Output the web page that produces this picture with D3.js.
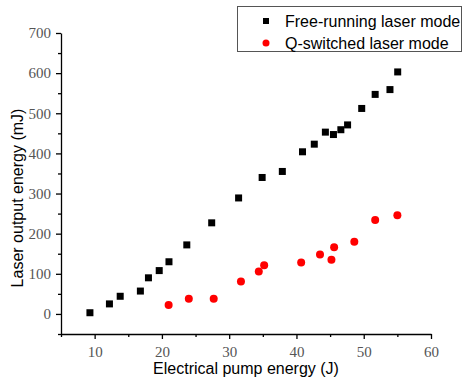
<!DOCTYPE html>
<html>
<head>
<meta charset="utf-8">
<script src="https://cdn.jsdelivr.net/npm/d3@7"></script>
<style>
body { margin: 0; background: #fff; }
.label { font-family: "Liberation Sans", Arial, sans-serif; font-size: 16px; fill: #000; }
</style>
</head>
<body>
<svg id="chart" width="462" height="391"></svg>
<script>
// free-running mode (square markers)
var freeX = [9.3, 12.2, 13.8, 16.8, 18.0, 19.6, 21.05, 23.7, 27.4, 31.4, 34.9, 37.9, 40.9, 42.65, 44.3, 45.5, 46.6, 47.6, 49.7, 51.7, 53.9, 55.05];
var freeY = [3, 25, 44, 57, 90, 108, 130, 172, 227, 289, 340, 355, 404, 423, 453, 447, 459, 471, 512, 547, 559, 603];
// Q-switched mode (red circles)
var qX = [21.0, 24.0, 27.7, 31.75, 34.4, 35.2, 40.7, 43.5, 45.2, 45.6, 48.6, 51.7, 55.0];
var qY = [22, 38, 38, 81, 106, 121, 128, 148, 135, 166, 180, 234, 246];

var xTicks = [10, 20, 30, 40, 50, 60];
var yTicks = [0, 100, 200, 300, 400, 500, 600, 700];
var legendNames = ['Free-running laser mode', 'Q-switched laser mode'];

var svg = d3.select('#chart');
var padding = {t: 33, r: 31, b: 57, l: 61};
var width = +svg.attr('width') - padding.l - padding.r;
var height = +svg.attr('height') - padding.t - padding.b;

var xScale = d3.scaleLinear().domain([5, 60]).range([0, width]);
var yScale = d3.scaleLinear().domain([-50, 700]).range([height, 0]);

var chart = svg.append('g')
    .attr('transform', 'translate(' + [padding.l, padding.t] + ')');

// minor ticks
chart.append('g')
    .attr('transform', 'translate(0,' + height + ')')
    .call(d3.axisBottom(xScale).tickValues(d3.range(5, 61, 10)).tickSize(3).tickFormat(''))
    .call(function(g) { g.select('.domain').remove(); });
chart.append('g')
    .call(d3.axisLeft(yScale).tickValues(d3.range(-50, 701, 100)).tickSize(3).tickFormat(''))
    .call(function(g) { g.select('.domain').remove(); });

var xAxis = chart.append('g')
    .attr('transform', 'translate(0,' + height + ')')
    .call(d3.axisBottom(xScale).tickValues(xTicks).tickSize(5).tickSizeOuter(0).tickPadding(7));
var yAxis = chart.append('g')
    .call(d3.axisLeft(yScale).tickValues(yTicks).tickSize(5).tickSizeOuter(0).tickPadding(5));

svg.selectAll('.domain, .tick line').attr('stroke', '#000').attr('stroke-width', 1.3);
svg.selectAll('.tick text')
    .attr('font-family', '"Liberation Serif", "Times New Roman", serif')
    .attr('font-size', 15)
    .attr('fill', '#555');

var freeData = freeX.map(function(d, i) { return {x: d, y: freeY[i]}; });
var qData = qX.map(function(d, i) { return {x: d, y: qY[i]}; });

chart.append('g').selectAll('rect')
    .data(freeData)
    .enter()
    .append('rect')
    .attr('x', function(d) { return xScale(d.x) - 3.5; })
    .attr('y', function(d) { return yScale(d.y) - 3.5; })
    .attr('width', 7)
    .attr('height', 7)
    .attr('fill', '#000');

chart.append('g').selectAll('circle')
    .data(qData)
    .enter()
    .append('circle')
    .attr('cx', function(d) { return xScale(d.x); })
    .attr('cy', function(d) { return yScale(d.y); })
    .attr('r', 4)
    .attr('fill', '#ff0000');

// axis titles
svg.append('text')
    .attr('class', 'label')
    .attr('x', 246)
    .attr('y', 374)
    .attr('text-anchor', 'middle')
    .text('Electrical pump energy (J)');

svg.append('text')
    .attr('class', 'label')
    .attr('transform', 'translate(23,198) rotate(-90)')
    .attr('text-anchor', 'middle')
    .text('Laser output energy (mJ)');

// legend
var leg = svg.append('g');
leg.append('rect')
    .attr('x', 237.5)
    .attr('y', 6.5)
    .attr('width', 224)
    .attr('height', 45)
    .attr('fill', '#fff')
    .attr('stroke', '#555')
    .attr('stroke-width', 1);

var item = leg.selectAll('.item')
    .data(legendNames)
    .enter()
    .append('g')
    .attr('class', 'item')
    .attr('transform', function(d, i) { return 'translate(266,' + (21 + i * 22) + ')'; });

item.filter(function(d, i) { return i == 0; })
    .append('rect')
    .attr('x', -3).attr('y', -3).attr('width', 6).attr('height', 6)
    .attr('fill', '#000');
item.filter(function(d, i) { return i == 1; })
    .append('circle')
    .attr('r', 3.5)
    .attr('fill', '#ff0000');

item.append('text')
    .attr('class', 'label')
    .attr('x', 19)
    .attr('y', 6)
    .text(function(d) { return d; });
</script>
</body>
</html>
